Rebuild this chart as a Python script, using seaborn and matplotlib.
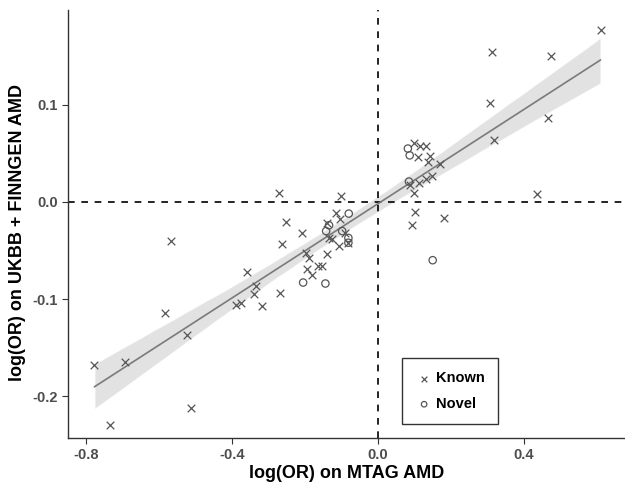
import matplotlib
matplotlib.use("Agg")
import matplotlib.pyplot as plt
import numpy as np
import pandas as pd
import seaborn as sns

# known loci: (MTAG log OR, UKBB+FINNGEN log OR)
known_x = [0.610, 0.313, 0.473, 0.306, 0.465, 0.317, 0.436, 0.100, 0.116, 0.133,
           0.110, 0.144, 0.136, 0.169, 0.112, 0.133, 0.148, 0.088, 0.100, 0.102,
           0.092, 0.181, -0.272, -0.101, -0.251, -0.115, -0.103, -0.140, -0.207, -0.262,
           -0.567, -0.134, -0.127, -0.106, -0.089, -0.196, -0.140, -0.188, -0.195, -0.164,
           -0.152, -0.180, -0.358, -0.268, -0.335, -0.339, -0.389, -0.374, -0.319, -0.583,
           -0.522, -0.692, -0.777, -0.513, -0.735, -0.083]
known_y = [0.177, 0.154, 0.150, 0.102, 0.086, 0.064, 0.008, 0.061, 0.058, 0.058,
           0.046, 0.047, 0.041, 0.039, 0.020, 0.024, 0.027, 0.017, 0.009, -0.010,
           -0.024, -0.017, 0.009, 0.006, -0.021, -0.011, -0.018, -0.022, -0.032, -0.043,
           -0.040, -0.037, -0.038, -0.045, -0.032, -0.053, -0.054, -0.058, -0.069, -0.066,
           -0.066, -0.075, -0.072, -0.094, -0.087, -0.095, -0.106, -0.104, -0.107, -0.114,
           -0.137, -0.165, -0.168, -0.212, -0.230, -0.042]

# novel loci
novel_x = [0.082, 0.087, 0.085, 0.150, -0.080, -0.134, -0.142, -0.098, -0.081, -0.081,
           -0.205, -0.144]
novel_y = [0.055, 0.048, 0.021, -0.060, -0.012, -0.024, -0.030, -0.030, -0.037, -0.042,
           -0.083, -0.084]

df = pd.concat([
    pd.DataFrame({"mtag": known_x, "ukbb": known_y, "type": "Known"}),
    pd.DataFrame({"mtag": novel_x, "ukbb": novel_y, "type": "Novel"}),
], ignore_index=True)

sns.set_theme(style="white")
plt.rcParams["font.family"] = ["Liberation Sans", "DejaVu Sans"]

fig = plt.figure(figsize=(6.25, 4.86), dpi=100)
ax = fig.add_axes([0.109, 0.099, 0.891, 0.881])

# fit line + confidence band on the known loci
sns.regplot(data=df[df["type"] == "Known"], x="mtag", y="ukbb", scatter=False, ax=ax,
            color="#7a7a7a", line_kws={"linewidth": 1.2}, ci=90)
for coll in ax.collections:
    coll.set_facecolor("#d9d9d9")
    coll.set_alpha(0.75)

k = df[df["type"] == "Known"]
n = df[df["type"] == "Novel"]
ax.scatter(k["mtag"], k["ukbb"], marker="x", s=30, color="#555555", linewidths=0.9,
           label="Known", zorder=3)
ax.scatter(n["mtag"], n["ukbb"], marker="o", s=28, facecolors="none",
           edgecolors="#555555", linewidths=0.9, label="Novel", zorder=3)

ax.axhline(0, color="black", linestyle=(0, (4, 4)), linewidth=1.2, zorder=1)
ax.axvline(0, color="black", linestyle=(0, (4, 4)), linewidth=1.2, zorder=1)

ax.set_xlim(-0.849, 0.677)
ax.set_ylim(-0.243, 0.198)
ax.set_xticks([-0.8, -0.4, 0.0, 0.4])
ax.set_yticks([-0.2, -0.1, 0.0, 0.1])
ax.set_xticklabels(["-0.8", "-0.4", "0.0", "0.4"])
ax.set_yticklabels(["-0.2", "-0.1", "0.0", "0.1"])
ax.tick_params(axis="both", length=4, width=0.8, color="#333333",
               labelsize=10.5, labelcolor="#4d4d4d", bottom=True, left=True)
for lab in ax.get_xticklabels() + ax.get_yticklabels():
    lab.set_fontweight("bold")

sns.despine(ax=ax)
for sp in ("left", "bottom"):
    ax.spines[sp].set_color("#333333")
    ax.spines[sp].set_linewidth(1.0)

ax.set_xlabel("log(OR) on MTAG AMD", fontsize=13, fontweight="bold", labelpad=2,
              color="black")
ax.set_ylabel("log(OR) on UKBB + FINNGEN AMD", fontsize=13, fontweight="bold",
              color="black")
ax.yaxis.set_label_coords(-0.075, 0.48)

leg = ax.legend(loc="lower left", bbox_to_anchor=(0.60, 0.032), frameon=True,
                fancybox=False, edgecolor="black", borderaxespad=0,
                prop={"weight": "bold", "size": 10.5}, handletextpad=0.2,
                borderpad=0.9, labelspacing=0.8, handlelength=1.2, markerscale=0.75,
                labelcolor="black")
leg.get_frame().set_linewidth(1.0)

fig.savefig("out.png", dpi=100)
